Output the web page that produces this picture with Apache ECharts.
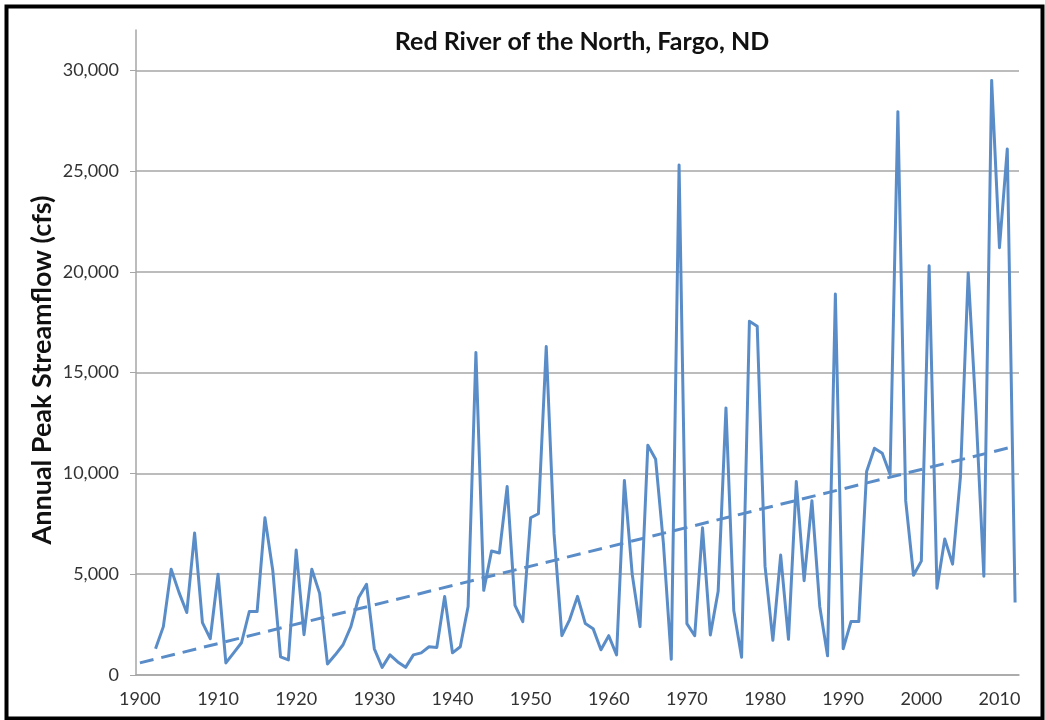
<!DOCTYPE html>
<html>
<head>
<meta charset="utf-8">
<title>Red River of the North, Fargo, ND</title>
<script src="https://cdn.jsdelivr.net/npm/echarts@6/dist/echarts.min.js"></script>
<style>
  html, body { margin: 0; padding: 0; background: #fff; }
  #chart { width: 1045px; height: 720px; }
</style>
</head>
<body>
<div id="chart"></div>
<script>
// years on the category axis (1900 - 2012)
const years = [];
for (let y = 1900; y <= 2012; y++) years.push(String(y));

// annual peak streamflow (cfs); record starts in 1902
const peakFlow = [
  null, null,
  1300, 2400, 5250, 4100, 3100, 7050, 2600, 1800, 5000,            // 1902-1910
  600, 1100, 1600, 3150, 3150, 7800, 5200, 900, 750, 6200,          // 1911-1920
  2000, 5250, 4050, 550, 1000, 1500, 2400, 3850, 4500, 1300,        // 1921-1930
  380, 1000, 650, 380, 1000, 1100, 1400, 1370, 3900, 1100,          // 1931-1940
  1400, 3400, 16000, 4200, 6150, 6050, 9350, 3450, 2650, 7800,      // 1941-1950
  8000, 16300, 7000, 1950, 2750, 3900, 2550, 2300, 1250, 1950,      // 1951-1960
  1000, 9650, 5000, 2400, 11400, 10700, 6500, 780, 25300, 2550,     // 1961-1970
  1950, 7300, 1990, 4150, 13250, 3200, 880, 17550, 17300, 5400,     // 1971-1980
  1720, 5950, 1770, 9600, 4680, 8650, 3400, 950, 18900, 1300,       // 1981-1990
  2650, 2650, 10100, 11250, 11000, 9950, 27950, 8650, 4950, 5650,   // 1991-2000
  20300, 4300, 6750, 5500, 9800, 19950, 13000, 4900, 29500, 21200,  // 2001-2010
  26100, 3600                                                       // 2011-2012
];

// linear trend line end points (dashed)
const trendYears = ['1900', '2012'];
const trendValues = [600, 11350];

const yTicks = [0, 5000, 10000, 15000, 20000, 25000, 30000];

const lineColor = '#5a8dc8';
const gridColor = '#a6a6a6';
const fontFamily = 'Lato, "Open Sans", sans-serif';

const chart = echarts.init(document.getElementById('chart'));

const option = {
  backgroundColor: '#ffffff',
  animation: false,
  title: {
    text: 'Red River of the North, Fargo, ND',
    left: 577,
    textAlign: 'center',
    top: 24,
    textStyle: {
      fontFamily: fontFamily,
      fontSize: 25,
      fontWeight: 'bold',
      color: '#111'
    }
  },
  grid: {
    left: 136,
    right: 26,
    top: 30,
    bottom: 45,
    containLabel: false
  },
  xAxis: {
    type: 'category',
    data: years,
    boundaryGap: true,
    axisLine: { lineStyle: { color: gridColor, width: 1.5 } },
    axisTick: {
      interval: 0,
      length: 6,
      lineStyle: { color: gridColor }
    },
    axisLabel: {
      interval: 9,
      margin: 15,
      fontFamily: fontFamily,
      fontSize: 18,
      color: '#333'
    },
    splitLine: { show: false }
  },
  yAxis: {
    type: 'value',
    min: 0,
    max: 32000,
    interval: 5000,
    axisLine: { show: true, lineStyle: { color: gridColor, width: 1.5 } },
    axisTick: {
      show: true,
      length: 6,
      customValues: yTicks,
      lineStyle: { color: gridColor }
    },
    axisLabel: {
      margin: 17,
      customValues: yTicks,
      fontFamily: fontFamily,
      fontSize: 18,
      color: '#333',
      formatter: function (v) { return echarts.format.addCommas(v); }
    },
    splitLine: {
      show: true,
      lineStyle: {
        color: [gridColor, gridColor, gridColor, gridColor, gridColor, gridColor, gridColor, 'transparent'],
        width: 1.5
      }
    }
  },
  graphic: [
    {
      type: 'text',
      x: 42,
      y: 370,
      rotation: Math.PI / 2,
      style: {
        text: 'Annual Peak Streamflow (cfs)',
        fontFamily: fontFamily,
        fontSize: 27,
        fontWeight: 'bold',
        fill: '#111',
        align: 'center',
        verticalAlign: 'middle'
      }
    },
    {
      type: 'rect',
      shape: { x: 6.5, y: 6.5, width: 1036, height: 712 },
      style: { fill: 'none', stroke: '#000', lineWidth: 4 },
      silent: true
    }
  ],
  series: [
    {
      name: 'Annual Peak Streamflow',
      type: 'line',
      data: peakFlow,
      symbol: 'none',
      connectNulls: false,
      lineStyle: { color: lineColor, width: 3, join: 'round' },
      z: 3
    },
    {
      name: 'Linear trend',
      type: 'line',
      data: trendYears.map((y, i) => [y, trendValues[i]]),
      symbol: 'none',
      lineStyle: { color: lineColor, width: 3, type: [14, 8] },
      z: 2
    }
  ]
};

chart.setOption(option);
</script>
</body>
</html>
